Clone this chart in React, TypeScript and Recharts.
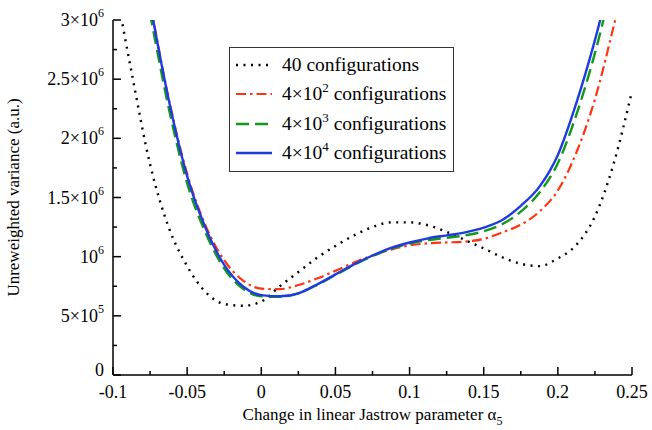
import { LineChart, Line, XAxis, YAxis, Legend, Label } from "recharts";

// sample points along the x axis (change in alpha_5)
const alpha = [
  -0.1, -0.0875, -0.075, -0.0625, -0.05, -0.0375, -0.025, -0.0125, 0, 0.0125, 0.025, 0.0375, 0.05,
  0.0625, 0.075, 0.0875, 0.1, 0.1125, 0.125, 0.1375, 0.15, 0.1625, 0.175, 0.1875, 0.2, 0.2125,
  0.225, 0.2375, 0.25,
];

// unreweighted variance, in units of 1e6
const conf40 = [
  3.4, 2.56, 1.78, 1.25, 0.92, 0.7, 0.6, 0.585, 0.62, 0.75, 0.87, 0.99, 1.09, 1.18, 1.25, 1.29,
  1.29, 1.265, 1.21, 1.14, 1.07, 0.995, 0.94, 0.92, 0.985, 1.1, 1.34, 1.78, 2.4,
];
const conf4e2 = [
  5.0, 4.0, 3.15, 2.34, 1.7, 1.26, 0.97, 0.8, 0.73, 0.725, 0.76, 0.815, 0.88, 0.95, 1.01, 1.06,
  1.095, 1.113, 1.12, 1.127, 1.15, 1.205, 1.27, 1.38, 1.56, 1.88, 2.33, 2.94, 3.6,
];
const conf4e3 = [
  4.8, 3.85, 3.05, 2.26, 1.62, 1.2, 0.9, 0.73, 0.665, 0.66, 0.69, 0.76, 0.845, 0.93, 1.005, 1.065,
  1.11, 1.14, 1.16, 1.18, 1.215, 1.275, 1.38, 1.54, 1.79, 2.2, 2.72, 3.35, 4.0,
];
const conf4e4 = [
  5.0, 4.0, 3.14, 2.33, 1.68, 1.24, 0.93, 0.75, 0.675, 0.665, 0.69, 0.765, 0.85, 0.935, 1.01, 1.075,
  1.12, 1.155, 1.18, 1.205, 1.245, 1.31, 1.43, 1.59, 1.86, 2.3, 2.83, 3.45, 4.1,
];

const xTicks = [
  -0.1, -0.075, -0.05, -0.025, 0, 0.025, 0.05, 0.075, 0.1, 0.125, 0.15, 0.175, 0.2, 0.225, 0.25,
];
const xMajor = [-0.1, -0.05, 0, 0.05, 0.1, 0.15, 0.2, 0.25];
const xLabels = ["-0.1", "-0.05", "0", "0.05", "0.1", "0.15", "0.2", "0.25"];

const yTicks = [0, 0.25, 0.5, 0.75, 1, 1.25, 1.5, 1.75, 2, 2.25, 2.5, 2.75, 3].map((v) => v * 1e6);
const yMajor = [0, 5e5, 1e6, 1.5e6, 2e6, 2.5e6, 3e6];
const yLabelBase = ["0", "5×10", "10", "1.5×10", "2×10", "2.5×10", "3×10"];
const yLabelExp = ["", "5", "6", "6", "6", "6", "6"];

const legendBase = ["40", "4×10", "4×10", "4×10"];
const legendExp = ["", "2", "3", "4"];

const series = [
  { key: "c40", color: "#000000", dash: "2 5.5", width: 2.4, cap: "butt" as const },
  { key: "c4e2", color: "#ff3311", dash: "10 4 2.5 4", width: 2.2, cap: "butt" as const },
  { key: "c4e3", color: "#12991a", dash: "13 6", width: 2.4, cap: "butt" as const },
  { key: "c4e4", color: "#1f3be0", dash: undefined, width: 2.4, cap: "butt" as const },
];

const data = alpha.map((x, i) => ({
  x,
  c40: conf40[i] * 1e6,
  c4e2: conf4e2[i] * 1e6,
  c4e3: conf4e3[i] * 1e6,
  c4e4: conf4e4[i] * 1e6,
}));

const FONT = "Liberation Serif, Tinos, 'DejaVu Serif', 'Noto Serif', serif";

const majorIndex = (list: number[], v: number) => list.findIndex((m) => Math.abs(m - v) < 1e-6 * (Math.abs(m) + 1));

const BottomTick = (props: any) => {
  const { x, y, payload } = props;
  const idx = majorIndex(xMajor, payload.value);
  return (
    <g>
      <line x1={x} x2={x} y1={y} y2={y - (idx >= 0 ? 8 : 4)} stroke="#000" strokeWidth={1.5} />
      {idx >= 0 && (
        <text x={x} y={y + 23} textAnchor="middle" fontSize={18} fontFamily={FONT} fill="#000">
          {xLabels[idx]}
        </text>
      )}
    </g>
  );
};

const TopTick = (props: any) => {
  const { x, y, payload } = props;
  const idx = majorIndex(xMajor, payload.value);
  return <line x1={x} x2={x} y1={y} y2={y + (idx >= 0 ? 8 : 4)} stroke="#000" strokeWidth={1.5} />;
};

const LeftTick = (props: any) => {
  const { x, y, payload } = props;
  const idx = majorIndex(yMajor, payload.value);
  return (
    <g>
      <line x1={x} x2={x + (idx >= 0 ? 8 : 4)} y1={y} y2={y} stroke="#000" strokeWidth={1.5} />
      {idx >= 0 && (
        <text x={x - 9} y={y + (idx === 0 ? 1 : 6)} textAnchor="end" fontSize={18} fontFamily={FONT} fill="#000">
          <tspan>{yLabelBase[idx]}</tspan>
          {yLabelExp[idx] && (
            <tspan dy={-9} fontSize={12}>
              {yLabelExp[idx]}
            </tspan>
          )}
        </text>
      )}
    </g>
  );
};

const RightTick = (props: any) => {
  const { x, y, payload } = props;
  const idx = majorIndex(yMajor, payload.value);
  return <line x1={x} x2={x - (idx >= 0 ? 8 : 4)} y1={y} y2={y} stroke="#000" strokeWidth={1.5} />;
};

const XTitle = (props: any) => {
  const { x, y, width } = props.viewBox;
  return (
    <text x={x + width / 2} y={y + 45} textAnchor="middle" fontSize={17} fontFamily={FONT} fill="#000">
      <tspan>Change in linear Jastrow parameter α</tspan>
      <tspan dy={5} fontSize={12}>
        5
      </tspan>
    </text>
  );
};

const YTitle = (props: any) => {
  const { x, y, height } = props.viewBox;
  const cx = x + 19;
  const cy = y + height / 2;
  return (
    <text
      x={cx}
      y={cy}
      transform={`rotate(-90 ${cx} ${cy})`}
      textAnchor="middle"
      fontSize={17}
      fontFamily={FONT}
      fill="#000"
    >
      Unreweighted variance (a.u.)
    </text>
  );
};

const LegendBox = () => (
  <div
    style={{
      border: "1.5px solid #333",
      background: "#fff",
      padding: "2px 7px 3px 4px",
      fontFamily: FONT,
      fontSize: 19.5,
      color: "#000",
    }}
  >
    {series.map((s, i) => (
      <div key={s.key} style={{ display: "flex", alignItems: "center", height: 29.5 }}>
        <svg width={40} height={12} style={{ marginRight: 8 }}>
          <line
            x1={2}
            x2={38}
            y1={6}
            y2={6}
            stroke={s.color}
            strokeWidth={s.width}
            strokeDasharray={s.dash}
            strokeLinecap={s.cap}
          />
        </svg>
        <span>
          {legendBase[i]}
          {legendExp[i] && <sup style={{ fontSize: 13, verticalAlign: 0, position: "relative", top: -8 }}>{legendExp[i]}</sup>}
          {" configurations"}
        </span>
      </div>
    ))}
  </div>
);

export default function App() {
  return (
    <div style={{ position: "absolute", left: 0, top: 0, background: "#fff" }}>
      <LineChart width={652} height={430} data={data} margin={{ top: 20, right: 20, bottom: 0, left: 0 }}>
        <XAxis
          dataKey="x"
          type="number"
          domain={[-0.1, 0.25]}
          ticks={xTicks}
          interval={0}
          allowDataOverflow
          height={55}
          tickSize={0}
          tickMargin={0}
          tickLine={false}
          tick={<BottomTick />}
          axisLine={{ stroke: "#000", strokeWidth: 1.5 }}
        >
          <Label content={<XTitle />} />
        </XAxis>
        <XAxis
          xAxisId="t"
          dataKey="x"
          type="number"
          orientation="top"
          domain={[-0.1, 0.25]}
          ticks={xTicks}
          interval={0}
          allowDataOverflow
          height={0}
          tickSize={0}
          tickMargin={0}
          tickLine={false}
          tick={<TopTick />}
          axisLine={{ stroke: "#000", strokeWidth: 1.5 }}
        />
        <YAxis
          type="number"
          domain={[0, 3e6]}
          ticks={yTicks}
          interval={0}
          allowDataOverflow
          width={113}
          tickSize={0}
          tickMargin={0}
          tickLine={false}
          tick={<LeftTick />}
          axisLine={{ stroke: "#000", strokeWidth: 1.5 }}
        >
          <Label content={<YTitle />} />
        </YAxis>
        <YAxis
          yAxisId="r"
          orientation="right"
          type="number"
          domain={[0, 3e6]}
          ticks={yTicks}
          interval={0}
          allowDataOverflow
          width={0}
          tickSize={0}
          tickMargin={0}
          tickLine={false}
          tick={<RightTick />}
          axisLine={{ stroke: "#000", strokeWidth: 1.5 }}
        />
        {series.map((s) => (
          <Line
            key={s.key}
            dataKey={s.key}
            type="monotone"
            stroke={s.color}
            strokeWidth={s.width}
            strokeDasharray={s.dash}
            strokeLinecap={s.cap}
            dot={false}
            activeDot={false}
            isAnimationActive={false}
          />
        ))}
        <Legend
          layout="vertical"
          align="center"
          verticalAlign="middle"
          content={<LegendBox />}
          wrapperStyle={{ top: 47, left: 229, width: "auto", bottom: "auto", right: "auto" }}
        />
      </LineChart>
    </div>
  );
}
